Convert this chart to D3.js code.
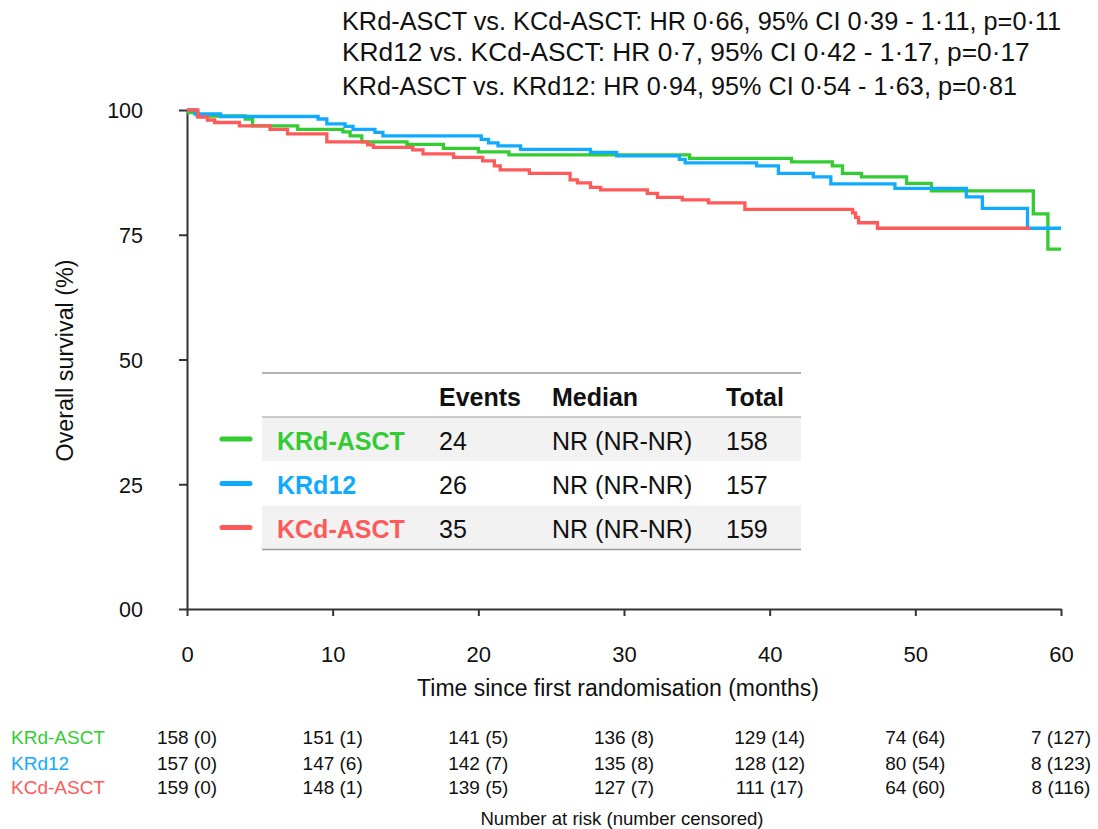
<!DOCTYPE html>
<html>
<head>
<meta charset="utf-8">
<script src="https://cdn.jsdelivr.net/npm/d3@7"></script>
<style>
  html, body { margin: 0; padding: 0; background: #fff; }
  svg { display: block; font-family: "Liberation Sans", Arial, sans-serif; }
</style>
</head>
<body>
<svg id="chart" width="1098" height="829"></svg>
<script>
// survival steps: [months, survival %]
const kRdAsct = [[0,100],[0.1,99.5],[0.7,98.8],[4.0,98.2],[4.5,96.8],[7.6,96.1],[10.7,95.6],[11.2,94.8],
  [12.0,93.6],[15.1,93.1],[17.6,92.3],[20.0,91.6],[22.1,91.0],[34.5,90.3],[41.5,89.6],[44.3,88.8],
  [45.0,87.3],[46.3,86.6],[49.4,85.3],[51.1,83.8],[58.1,79.2],[59.1,72.1],[60,72.1]];
const kRd12 = [[0,100],[0.55,99.2],[2.3,98.7],[9.0,98.2],[9.6,97.2],[10.85,96.7],[11.4,96.1],[12.9,95.5],
  [13.45,94.8],[20.2,94.1],[20.7,93.4],[21.35,92.8],[22.9,92.1],[27.7,91.5],[29.5,90.8],[33.8,90.1],
  [34.2,89.4],[39.1,88.8],[40.6,87.3],[43.0,86.6],[44.2,85.2],[48.6,84.3],[53.5,82.6],[54.6,80.3],
  [57.7,76.3],[60,76.3]];
const kCdAsct = [[0,100],[0.75,98.6],[1.4,98.0],[1.9,97.5],[3.6,96.8],[5.7,96.1],[6.9,95.2],[9.6,93.6],
  [12.4,93.0],[12.8,92.5],[15.5,92.0],[16.2,91.2],[18.3,90.5],[20.3,89.8],[21.1,88.8],[21.5,88.0],
  [23.5,87.3],[26.3,86.0],[26.8,85.4],[27.7,84.5],[28.4,84.0],[31.6,83.3],[32.3,82.5],[34.0,82.0],
  [35.8,81.4],[38.3,80.1],[45.7,79.4],[45.9,78.5],[46.1,77.4],[47.4,76.3],[57.9,76.3]];

const groups = ['KRd-ASCT', 'KRd12', 'KCd-ASCT'];
const groupColors = ['#33cc33', '#10aaff', '#ff5a5a'];
const curves = [kRdAsct, kRd12, kCdAsct];

const events = [24, 26, 35];
const medians = ['NR (NR-NR)', 'NR (NR-NR)', 'NR (NR-NR)'];
const totals = [158, 157, 159];
const tableHeads = ['Events', 'Median', 'Total'];

const hrLines = [
  'KRd-ASCT vs. KCd-ASCT: HR 0\u00b766, 95% CI 0\u00b739 - 1\u00b711, p=0\u00b711',
  'KRd12 vs. KCd-ASCT: HR 0\u00b77, 95% CI 0\u00b742 - 1\u00b717, p=0\u00b717',
  'KRd-ASCT vs. KRd12: HR 0\u00b794, 95% CI 0\u00b754 - 1\u00b763, p=0\u00b781'
];

const xTicks = [0, 10, 20, 30, 40, 50, 60];
const yTicks = [0, 25, 50, 75, 100];
const yTickLabels = ['00', '25', '50', '75', '100'];

const riskAtTimes = [
  ['158 (0)', '151 (1)', '141 (5)', '136 (8)', '129 (14)', '74 (64)', '7 (127)'],
  ['157 (0)', '147 (6)', '142 (7)', '135 (8)', '128 (12)', '80 (54)', '8 (123)'],
  ['159 (0)', '148 (1)', '139 (5)', '127 (7)', '111 (17)', '64 (60)', '8 (116)']
];

const svg = d3.select('#chart');
const x = d3.scaleLinear().domain([0, 60]).range([187, 1061]);
const y = d3.scaleLinear().domain([0, 100]).range([609, 110]);
const AX = '#333';

// hazard ratio notes
svg.append('g').selectAll('text').data(hrLines).join('text')
  .attr('x', 342)
  .attr('y', (d, i) => [30, 61, 95][i])
  .attr('font-size', (d, i) => [25.3, 26.3, 25.2][i])
  .attr('fill', '#111')
  .text(d => d);

// legend table
const tbl = svg.append('g');
const rowTop = [417, 461.5, 505.5];
const rowH = 44;
tbl.selectAll('rect').data(groups).join('rect')
  .attr('x', 262).attr('y', (d, i) => rowTop[i])
  .attr('width', 539).attr('height', rowH)
  .attr('fill', (d, i) => i === 1 ? '#fff' : '#f2f2f2');
[373, 417, 549.5].forEach(yy => {
  tbl.append('line').attr('x1', 262).attr('x2', 801).attr('y1', yy).attr('y2', yy)
    .attr('stroke', '#999').attr('stroke-width', yy === 417 ? 1 : 1.6);
});
const colX = [439, 552, 726];
tbl.selectAll('text.head').data(tableHeads).join('text')
  .attr('class', 'head')
  .attr('x', (d, i) => colX[i]).attr('y', 405.5)
  .attr('font-size', 25).attr('font-weight', 'bold').attr('fill', '#111')
  .text(d => d);
groups.forEach((g, i) => {
  const by = rowTop[i] + 32.5;
  tbl.append('line')
    .attr('x1', 222).attr('x2', 250).attr('y1', rowTop[i] + 22).attr('y2', rowTop[i] + 22)
    .attr('stroke', groupColors[i]).attr('stroke-width', 5).attr('stroke-linecap', 'round');
  tbl.append('text').attr('x', 277).attr('y', by)
    .attr('font-size', 25).attr('font-weight', 'bold').attr('fill', groupColors[i]).text(g);
  [events[i], medians[i], totals[i]].forEach((v, j) => {
    tbl.append('text').attr('x', colX[j]).attr('y', by)
      .attr('font-size', 25).attr('fill', '#111').text(v);
  });
});

// axes
const yAxis = svg.append('g').attr('transform', `translate(${x(0)},0)`)
  .call(d3.axisLeft(y).tickValues(yTicks).tickSize(8).tickSizeOuter(0).tickPadding(36)
    .tickFormat((d, i) => yTickLabels[i]));
const xAxis = svg.append('g').attr('transform', `translate(0,${y(0)})`)
  .call(d3.axisBottom(x).tickValues(xTicks).tickSize(7).tickSizeOuter(0).tickPadding(30));
[yAxis, xAxis].forEach(a => {
  a.selectAll('path, line').attr('stroke', AX).attr('stroke-width', 2);
  a.selectAll('text').attr('fill', '#111')
    .attr('font-family', '"Liberation Sans", Arial, sans-serif');
});
yAxis.selectAll('text').attr('font-size', 21.5).attr('dy', '0.36em');
xAxis.selectAll('text').attr('font-size', 22);

// curves
const line = d3.line().x(d => x(d[0])).y(d => y(d[1])).curve(d3.curveStepAfter);
svg.append('g').selectAll('path').data(curves).join('path')
  .attr('d', line)
  .attr('fill', 'none')
  .attr('stroke', (d, i) => groupColors[i])
  .attr('stroke-width', 3.3);

// axis titles
svg.append('text').attr('x', 618).attr('y', 696).attr('text-anchor', 'middle')
  .attr('font-size', 23).attr('fill', '#111')
  .text('Time since first randomisation (months)');
svg.append('text').attr('transform', 'translate(73,360.5) rotate(-90)').attr('text-anchor', 'middle')
  .attr('font-size', 23.3).attr('fill', '#111')
  .text('Overall survival (%)');

// number at risk
const risk = svg.append('g');
groups.forEach((g, i) => {
  const by = [744, 770, 794][i];
  risk.append('text').attr('x', 11).attr('y', by).attr('font-size', 19)
    .attr('fill', groupColors[i]).text(g);
  risk.selectAll(null).data(riskAtTimes[i]).join('text')
    .attr('x', (d, j) => x(xTicks[j])).attr('y', by)
    .attr('text-anchor', 'middle').attr('font-size', 19).attr('fill', '#111')
    .text(d => d);
});
svg.append('text').attr('x', 622).attr('y', 825).attr('text-anchor', 'middle')
  .attr('font-size', 18.6).attr('fill', '#111')
  .text('Number at risk (number censored)');
</script>
</body>
</html>
